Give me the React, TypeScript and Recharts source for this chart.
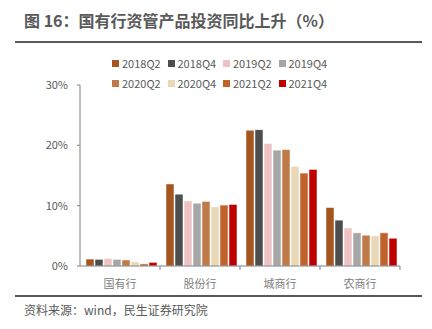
import { BarChart, Bar, XAxis, YAxis } from 'recharts';

const categories = ['国有行', '股份行', '城商行', '农商行'];
const seriesNames = ['2018Q2', '2018Q4', '2019Q2', '2019Q4', '2020Q2', '2020Q4', '2021Q2', '2021Q4'];
const seriesColors = ['#A5561F', '#4D4D4D', '#EFC3C3', '#A6A6A6', '#C07A48', '#E9D7B5', '#C0622A', '#C00000'];

// values in %, one list per category, in series order
const guoyou = [1.15, 1.1, 1.25, 1.1, 1.0, 0.7, 0.35, 0.6];
const gufen = [13.6, 11.9, 10.8, 10.4, 10.7, 9.8, 10.1, 10.2];
const chengshang = [22.5, 22.6, 20.3, 19.2, 19.3, 16.5, 15.4, 16.0];
const nongshang = [9.7, 7.6, 6.3, 5.5, 5.1, 5.0, 5.5, 4.6];

const yTicks = [0, 10, 20, 30];

const rows = [guoyou, gufen, chengshang, nongshang];
const chartData = categories.map((name, i) => {
  const row: Record<string, string | number> = { name };
  seriesNames.forEach((s, j) => {
    row[s] = rows[i][j];
  });
  return row;
});

const gray = '#595959';
const axisGray = '#808080';
const font = '"Noto Sans CJK SC", "Noto Sans", sans-serif';
const LABEL_GAP = 14;

// category label plus a small tick at the right edge of each band
const CategoryTick = (props: any) => {
  const { x, y, payload, width } = props;
  const band = (width ?? 320) / categories.length;
  const axisY = y - LABEL_GAP;
  return (
    <g>
      <line x1={x + band / 2} x2={x + band / 2} y1={axisY} y2={axisY + 4} stroke={axisGray} />
      <text x={x} y={y} dy="0.71em" textAnchor="middle" fontSize={11} fill={axisGray} fontFamily={font}>
        {payload.value}
      </text>
    </g>
  );
};

export default function App() {
  return (
    <div
      style={{
        position: 'absolute',
        left: 0,
        top: 0,
        width: 432,
        height: 329,
        background: '#fff',
        fontFamily: font,
        overflow: 'hidden',
      }}
    >
      <div
        style={{
          position: 'absolute',
          left: 24,
          top: 9,
          fontSize: 16,
          fontWeight: 'bold',
          color: gray,
          lineHeight: '22px',
          whiteSpace: 'nowrap',
        }}
      >
        图 16：国有行资管产品投资同比上升（%）
      </div>
      <div style={{ position: 'absolute', left: 15, top: 41, width: 407, height: 2, background: gray }} />

      {/* legend, two rows of four */}
      {[0, 1].map((r) => (
        <div key={r} style={{ position: 'absolute', left: 112, top: 56 + r * 20, height: 14 }}>
          {seriesNames.slice(r * 4, r * 4 + 4).map((s, k) => (
            <div
              key={s}
              style={{
                position: 'absolute',
                left: k * 55.5,
                top: 0,
                display: 'flex',
                alignItems: 'center',
                height: 14,
                whiteSpace: 'nowrap',
              }}
            >
              <span style={{ width: 7, height: 7, background: seriesColors[r * 4 + k], marginRight: 3 }} />
              <span style={{ fontSize: 11, color: gray }}>{s}</span>
            </div>
          ))}
        </div>
      ))}

      <div style={{ position: 'absolute', left: 0, top: 0 }}>
        <BarChart
          width={432}
          height={329}
          data={chartData}
          margin={{ top: 85, right: 32, bottom: 33, left: 0 }}
          barCategoryGap="7.5%"
          barGap={1}
        >
          <XAxis
            dataKey="name"
            stroke={axisGray}
            tickLine={false}
            tickSize={0}
            tickMargin={LABEL_GAP}
            height={30}
            tick={<CategoryTick />}
            interval={0}
          />
          <YAxis
            domain={[0, 30]}
            ticks={yTicks}
            width={80}
            tickSize={3}
            tickMargin={9}
            stroke={axisGray}
            tickFormatter={(v) => `${v}%`}
            tick={{ fontSize: 11, fill: gray, fontFamily: font }}
          />
          {seriesNames.map((s, j) => (
            <Bar
              key={s}
              dataKey={s}
              fill={seriesColors[j]}
              stroke="#ffffff"
              strokeWidth={0.5}
              isAnimationActive={false}
            />
          ))}
        </BarChart>
      </div>

      <div style={{ position: 'absolute', left: 15, top: 295, width: 407, height: 2, background: gray }} />
      <div
        style={{
          position: 'absolute',
          left: 24,
          top: 301,
          fontSize: 12,
          color: gray,
          lineHeight: '18px',
          whiteSpace: 'nowrap',
        }}
      >
        资料来源：wind，民生证券研究院
      </div>
    </div>
  );
}
